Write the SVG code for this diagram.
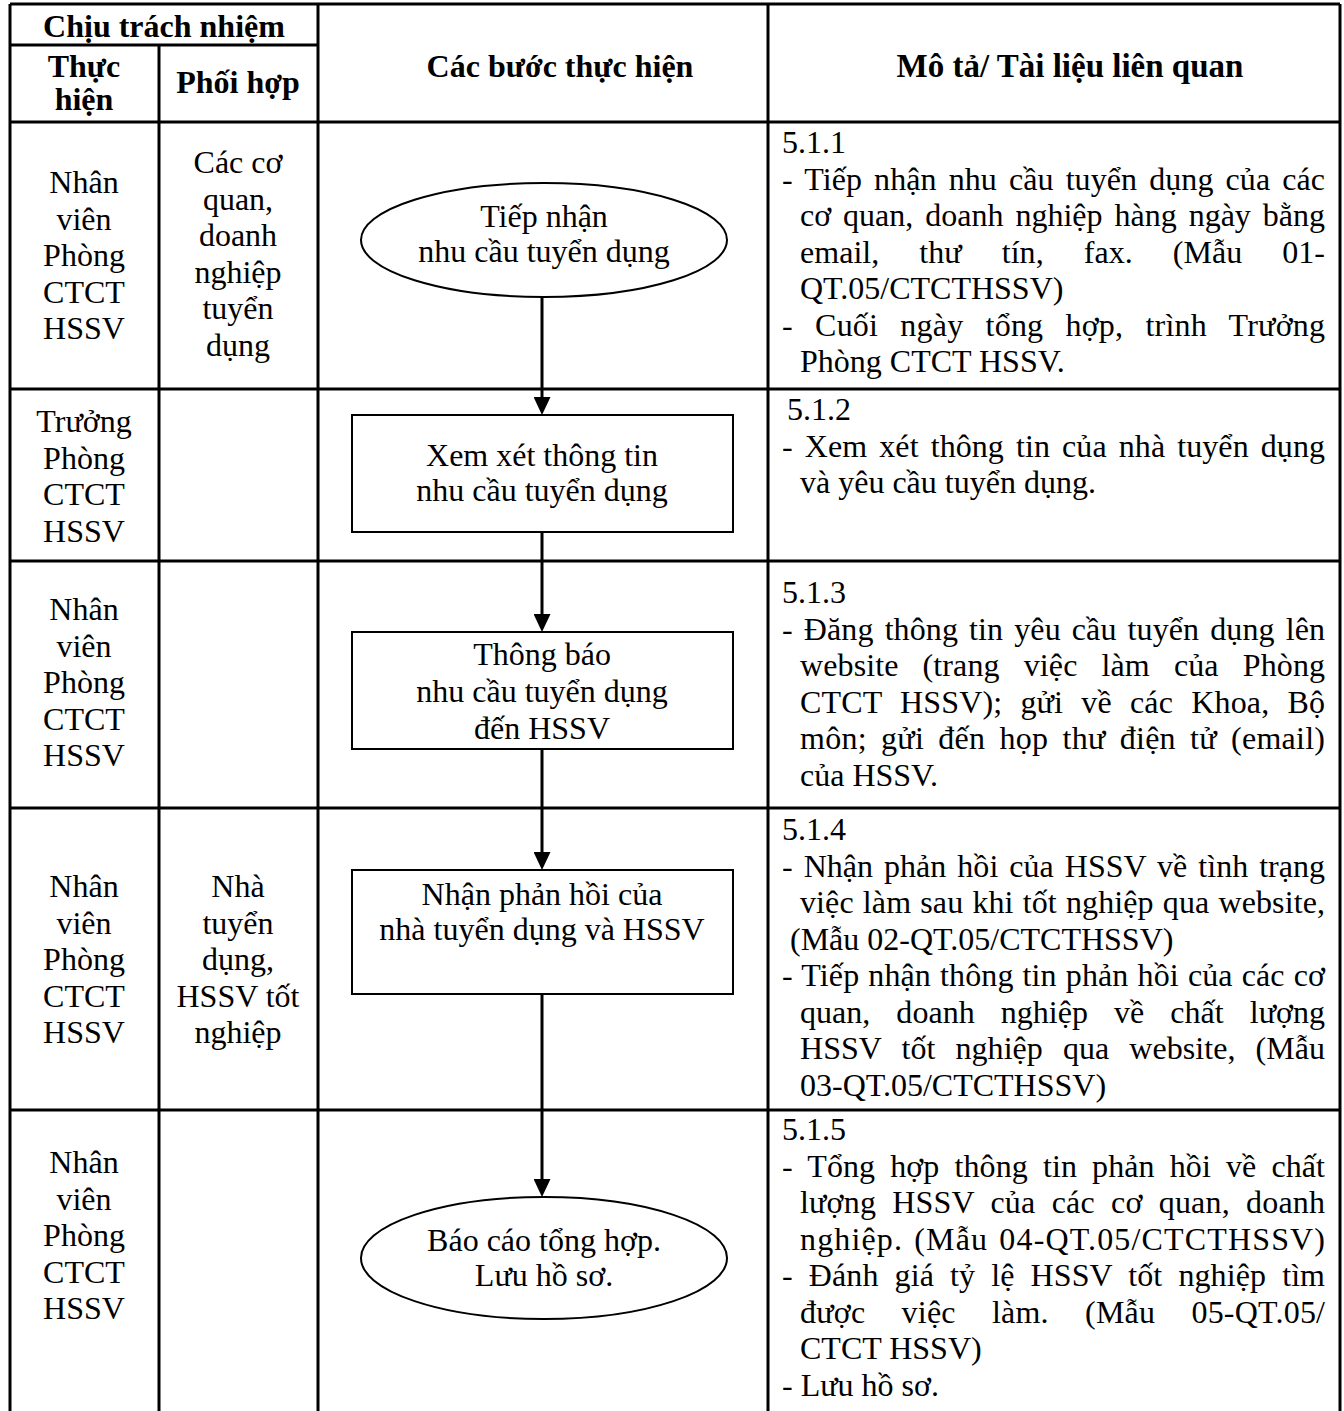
<svg xmlns="http://www.w3.org/2000/svg" width="1344" height="1411" viewBox="0 0 1344 1411">
<style>
.t{font-family:"Liberation Serif","Times New Roman",serif;font-size:32px;fill:#000}
.b{font-weight:bold}
.c{text-anchor:middle}
.grid{stroke:#000;stroke-width:3;fill:none}
.node{fill:#fff;stroke:#000;stroke-width:2}
.conn{stroke:#000;stroke-width:3;fill:none;marker-end:url(#ah)}
</style>
<defs>
<marker id="ah" viewBox="0 0 18 17" refX="6" refY="8.5" markerWidth="18" markerHeight="17" markerUnits="userSpaceOnUse" orient="auto">
<path d="M0,0 L18,8.5 L0,17 z" fill="#000"/>
</marker>
</defs>
<rect width="1344" height="1411" fill="#fff"/>
<g id="table" class="grid">
<line x1="10" y1="4" x2="1340" y2="4"/>
<line x1="10" y1="4" x2="10" y2="1411"/>
<line x1="159" y1="45" x2="159" y2="1411"/>
<line x1="318" y1="4" x2="318" y2="1411"/>
<line x1="768" y1="4" x2="768" y2="1411"/>
<line x1="1340" y1="4" x2="1340" y2="1411"/>
<line x1="10" y1="45" x2="318" y2="45"/>
<line x1="10" y1="122" x2="1340" y2="122"/>
<line x1="10" y1="389" x2="1340" y2="389"/>
<line x1="10" y1="561" x2="1340" y2="561"/>
<line x1="10" y1="808" x2="1340" y2="808"/>
<line x1="10" y1="1110" x2="1340" y2="1110"/>
</g>
<g id="header" class="t b c">
<text x="164" y="37">Chịu trách nhiệm</text>
<text x="84" y="77">Thực</text>
<text x="84" y="110">hiện</text>
<text x="238" y="93">Phối hợp</text>
<text x="560" y="77">Các bước thực hiện</text>
<text x="1070" y="77" style="font-size:33px">Mô tả/ Tài liệu liên quan</text>
</g>
<g id="roles" class="t c">
<text x="84" y="193">Nhân</text><text x="84" y="229.5">viên</text><text x="84" y="266">Phòng</text><text x="84" y="302.5">CTCT</text><text x="84" y="339">HSSV</text>
<text x="238" y="173">Các cơ</text><text x="238" y="209.5">quan,</text><text x="238" y="246">doanh</text><text x="238" y="282.5">nghiệp</text><text x="238" y="319">tuyển</text><text x="238" y="355.5">dụng</text>
<text x="84" y="432">Trưởng</text><text x="84" y="468.5">Phòng</text><text x="84" y="505">CTCT</text><text x="84" y="541.5">HSSV</text>
<text x="84" y="620">Nhân</text><text x="84" y="656.5">viên</text><text x="84" y="693">Phòng</text><text x="84" y="729.5">CTCT</text><text x="84" y="766">HSSV</text>
<text x="84" y="897">Nhân</text><text x="84" y="933.5">viên</text><text x="84" y="970">Phòng</text><text x="84" y="1006.5">CTCT</text><text x="84" y="1043">HSSV</text>
<text x="238" y="897">Nhà</text><text x="238" y="933.5">tuyển</text><text x="238" y="970">dụng,</text><text x="238" y="1006.5">HSSV tốt</text><text x="238" y="1043">nghiệp</text>
<text x="84" y="1173">Nhân</text><text x="84" y="1209.5">viên</text><text x="84" y="1246">Phòng</text><text x="84" y="1282.5">CTCT</text><text x="84" y="1319">HSSV</text>
</g>
<g id="connectors">
<line class="conn" x1="542" y1="297" x2="542" y2="403"/>
<line class="conn" x1="542" y1="528" x2="542" y2="620"/>
<line class="conn" x1="542" y1="745" x2="542" y2="858"/>
<line class="conn" x1="542" y1="990" x2="542" y2="1185"/>
</g>
<g id="n1"><ellipse class="node" cx="544" cy="240" rx="183" ry="57"/><text class="t c" x="544" y="227">Tiếp nhận</text><text class="t c" x="544" y="262">nhu cầu tuyển dụng</text></g>
<g id="n2"><rect class="node" x="352" y="415" width="381" height="117"/><text class="t c" x="542" y="466">Xem xét thông tin</text><text class="t c" x="542" y="501">nhu cầu tuyển dụng</text></g>
<g id="n3"><rect class="node" x="352" y="632" width="381" height="117"/><text class="t c" x="542" y="665">Thông báo</text><text class="t c" x="542" y="702">nhu cầu tuyển dụng</text><text class="t c" x="542" y="739">đến HSSV</text></g>
<g id="n4"><rect class="node" x="352" y="870" width="381" height="124"/><text class="t c" x="542" y="905">Nhận phản hồi của</text><text class="t c" x="542" y="940">nhà tuyển dụng và HSSV</text></g>
<g id="n5"><ellipse class="node" cx="544" cy="1258" rx="183" ry="61"/><text class="t c" x="544" y="1251">Báo cáo tổng hợp.</text><text class="t c" x="544" y="1286">Lưu hồ sơ.</text></g>
<g id="desc" class="t">
<text x="782" y="153">5.1.1</text>
<text x="782" y="189.5" textLength="543" lengthAdjust="spacing" style="word-spacing:4px">- Tiếp nhận nhu cầu tuyển dụng của các</text>
<text x="800" y="226" textLength="525" lengthAdjust="spacing" style="word-spacing:4px">cơ quan, doanh nghiệp hàng ngày bằng</text>
<text x="800" y="262.5" textLength="525" lengthAdjust="spacing" style="word-spacing:32px">email, thư tín, fax. (Mẫu 01-</text>
<text x="800" y="299">QT.05/CTCTHSSV)</text>
<text x="782" y="335.5" textLength="543" lengthAdjust="spacing" style="word-spacing:14px">- Cuối ngày tổng hợp, trình Trưởng</text>
<text x="800" y="372">Phòng CTCT HSSV.</text>
<text x="787" y="420">5.1.2</text>
<text x="782" y="456.5" textLength="543" lengthAdjust="spacing" style="word-spacing:4px">- Xem xét thông tin của nhà tuyển dụng</text>
<text x="800" y="493">và yêu cầu tuyển dụng.</text>
<text x="782" y="603">5.1.3</text>
<text x="782" y="639.5" textLength="543" lengthAdjust="spacing" style="word-spacing:3px">- Đăng thông tin yêu cầu tuyển dụng lên</text>
<text x="800" y="676" textLength="525" lengthAdjust="spacing" style="word-spacing:16px">website (trang việc làm của Phòng</text>
<text x="800" y="712.5" textLength="525" lengthAdjust="spacing" style="word-spacing:10px">CTCT HSSV); gửi về các Khoa, Bộ</text>
<text x="800" y="749" textLength="525" lengthAdjust="spacing" style="word-spacing:6px">môn; gửi đến họp thư điện tử (email)</text>
<text x="800" y="785.5">của HSSV.</text>
<text x="782" y="840">5.1.4</text>
<text x="782" y="876.5" textLength="543" lengthAdjust="spacing" style="word-spacing:3px">- Nhận phản hồi của HSSV về tình trạng</text>
<text x="800" y="913" textLength="525" lengthAdjust="spacing" style="word-spacing:1px">việc làm sau khi tốt nghiệp qua website,</text>
<text x="790" y="949.5">(Mẫu 02-QT.05/CTCTHSSV)</text>
<text x="782" y="986" textLength="543" lengthAdjust="spacing" style="word-spacing:1px">- Tiếp nhận thông tin phản hồi của các cơ</text>
<text x="800" y="1022.5" textLength="525" lengthAdjust="spacing" style="word-spacing:18px">quan, doanh nghiệp về chất lượng</text>
<text x="800" y="1059" textLength="525" lengthAdjust="spacing" style="word-spacing:12px">HSSV tốt nghiệp qua website, (Mẫu</text>
<text x="800" y="1095.5">03-QT.05/CTCTHSSV)</text>
<text x="782" y="1140">5.1.5</text>
<text x="782" y="1176.5" textLength="543" lengthAdjust="spacing" style="word-spacing:7px">- Tổng hợp thông tin phản hồi về chất</text>
<text x="800" y="1213" textLength="525" lengthAdjust="spacing" style="word-spacing:8px">lượng HSSV của các cơ quan, doanh</text>
<text x="800" y="1249.5" textLength="525" lengthAdjust="spacing" style="word-spacing:2px">nghiệp. (Mẫu 04-QT.05/CTCTHSSV)</text>
<text x="782" y="1286" textLength="543" lengthAdjust="spacing" style="word-spacing:8px">- Đánh giá tỷ lệ HSSV tốt nghiệp tìm</text>
<text x="800" y="1322.5" textLength="525" lengthAdjust="spacing" style="word-spacing:28px">được việc làm. (Mẫu 05-QT.05/</text>
<text x="800" y="1359">CTCT HSSV)</text>
<text x="782" y="1395.5">- Lưu hồ sơ.</text>
</g>
</svg>
